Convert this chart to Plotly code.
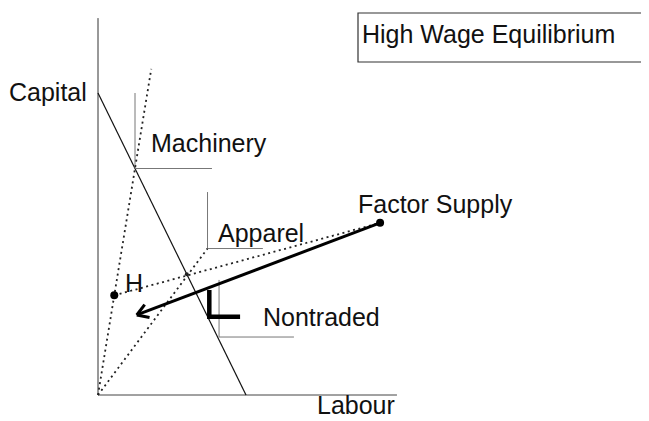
import math
import plotly.graph_objects as go

# ---- data (economic units: Labour on x, Capital on y) ----
axis_x_end = 10.1          # length of labour axis
axis_y_end = 12.48         # length of capital axis
isocost_L = [0, 5.0]
isocost_K = [10.0, 0]

machinery_iso_L = [1.25, 1.25, 3.85]
machinery_iso_K = [10.0, 7.5, 7.5]
machinery_ray_L = [0, 1.8]
machinery_ray_K = [0, 10.8]

apparel_iso_L = [3.7, 3.7, 5.57]
apparel_iso_K = [6.72, 4.85, 4.85]
apparel_ray_L = [0, 3.7]
apparel_ray_K = [0, 4.85]
apparel_cross = (3.0, 4.0)

nontraded_iso_L = [4.09, 4.09, 6.62]
nontraded_iso_K = [3.81, 1.92, 1.92]
nontraded_use_L = [3.76, 3.76, 4.80]
nontraded_use_K = [3.48, 2.59, 2.59]

point_H = (0.55, 3.3)
factor_supply = (9.53, 5.70)
arrow_tip = (1.31, 2.65)

labels = {
    "Capital": (-0.30, 10.03, "right"),
    "Machinery": (1.72, 8.33, "left"),
    "Apparel": (4.0, 5.36, "left"),
    "H": (1.22, 3.71, "center"),
    "Factor Supply": (8.70, 6.32, "left"),
    "Nontraded": (5.49, 2.58, "left"),
    "Labour": (7.32, -0.34, "left"),
}
title_text = "High Wage Equilibrium"

# ---- layout (page body has an 8px margin) ----
OFF = 8
W, H = 649 - OFF, 421 - OFF
ox, oy = 98 - OFF, 395 - OFF
sx, sy = 29.6, 30.2
xr = [-ox / sx, (W - ox) / sx]
yr = [-(H - oy) / sy, oy / sy]

FONT = "Liberation Sans, Arial, Helvetica, sans-serif"
FS = 25
fig = go.Figure()

def line(xs, ys, color="#222", width=1, dash="solid"):
    fig.add_trace(go.Scatter(x=xs, y=ys, mode="lines",
                             line=dict(color=color, width=width, dash=dash),
                             hoverinfo="skip", showlegend=False))

DOT = "2px,3.5px"
# axes
line([0, 0], [0, axis_y_end], "#333", 1)
line([0, axis_x_end], [0, 0], "#444", 1)
# isocost
line(isocost_L, isocost_K, "#111", 1.2)
# isoquants
line(machinery_iso_L, machinery_iso_K, "#777", 1)
line(apparel_iso_L, apparel_iso_K, "#777", 1)
line(nontraded_iso_L, nontraded_iso_K, "#777", 1)
# rays (dotted)
line(machinery_ray_L, machinery_ray_K, "#222", 1.8, DOT)
line(apparel_ray_L, apparel_ray_K, "#222", 1.8, DOT)
line([point_H[0], factor_supply[0]], [point_H[1], factor_supply[1]], "#222", 1.8, DOT)
# thick nontraded factor use
line(nontraded_use_L, nontraded_use_K, "#000", 4.5)
# arrow shaft
line([factor_supply[0], arrow_tip[0]], [factor_supply[1], arrow_tip[1]], "#000", 3)
# arrow head (chevron) computed in pixel space
dxp = (factor_supply[0] - arrow_tip[0]) * sx
dyp = (factor_supply[1] - arrow_tip[1]) * sy
ang = math.atan2(dyp, dxp)
hl = 13
for s in (-1, 1):
    a = ang + s * math.radians(32)
    line([arrow_tip[0], arrow_tip[0] + hl * math.cos(a) / sx],
         [arrow_tip[1], arrow_tip[1] + hl * math.sin(a) / sy], "#000", 3)

# points
fig.add_trace(go.Scatter(x=[point_H[0], factor_supply[0]], y=[point_H[1], factor_supply[1]],
                         mode="markers", marker=dict(color="#000", size=8),
                         hoverinfo="skip", showlegend=False))
fig.add_trace(go.Scatter(x=[apparel_cross[0]], y=[apparel_cross[1]],
                         mode="markers", marker=dict(color="#222", size=4),
                         hoverinfo="skip", showlegend=False))

for txt, (x, y, anc) in labels.items():
    fig.add_annotation(x=x, y=y, text=txt, showarrow=False, xanchor=anc, yanchor="middle",
                       font=dict(family=FONT, size=FS, color="#111"))

# title box
fig.add_shape(type="rect", xref="paper", yref="paper",
              x0=(358 - OFF) / W, x1=1.05, y0=1 - (62 - OFF) / H, y1=1 - (13 - OFF) / H,
              line=dict(color="#333", width=1.2))
fig.add_annotation(xref="paper", yref="paper", x=(360 - OFF) / W, y=1 - (34 - OFF) / H,
                   text=title_text, showarrow=False, xanchor="left", yanchor="middle",
                   font=dict(family=FONT, size=FS, color="#111"))

fig.update_layout(width=W, height=H, margin=dict(l=0, r=0, t=0, b=0),
                  paper_bgcolor="white", plot_bgcolor="white",
                  xaxis=dict(visible=False, range=xr, fixedrange=True),
                  yaxis=dict(visible=False, range=yr, fixedrange=True))
fig.write_html("out.html")
